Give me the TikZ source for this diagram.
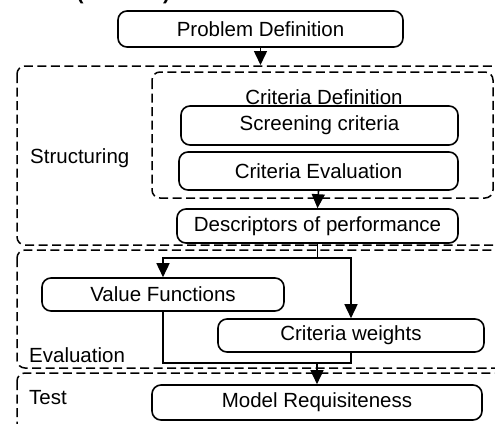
\documentclass[tikz,border=0pt]{standalone}
\usepackage{fontspec}
\setmainfont{Liberation Sans}
\usetikzlibrary{arrows.meta}
\begin{document}
\begin{tikzpicture}[x=1pt,y=-1pt,
  font=\fontsize{20.5}{24}\selectfont,
  box/.style={draw, line width=1.6pt, rounded corners=9pt, inner sep=0pt},
  phase/.style={draw, line width=1.5pt, dash pattern=on 9pt off 4.5pt, rounded corners=8pt},
  conn/.style={line width=1.6pt},
  arr/.style={line width=1.6pt, -{Triangle[width=13pt,length=14pt]}},
  lab/.style={inner sep=0pt, anchor=west}]
\useasboundingbox (0,0) rectangle (495,423);
\clip (0,0) rectangle (495,423);
% cropped title fragments
\node[inner sep=0pt, anchor=base, font=\fontsize{21}{24}\bfseries] (lp) at (80,-0.5) {(};
\node[inner sep=0pt, anchor=base, font=\fontsize{21}{24}\bfseries] (rp) at (166.5,-0.5) {)};
% phase boxes
\draw[phase] (17,66) rectangle (510,245);
\draw[phase] (152,72) rectangle (493,198);
\draw[phase] (17,250) rectangle (510,368);
\draw[phase] (17,373) rectangle (510,450);
% labels
\node[lab] (ls) at (30,158) {Structuring};
\node[lab] (le) at (29,355) {Evaluation};
\node[lab] (lt) at (29,398) {Test};
\node[inner sep=0pt] (cd) at (324,97) {Criteria Definition};
% boxes
\node[box, minimum width=285pt, minimum height=36pt] (pd) at (260.5,29) {Problem Definition};
\node[box, minimum width=277pt, minimum height=39pt] (sc) at (319.5,125.5) {Screening criteria};
\node[box, minimum width=279pt, minimum height=38pt] (ce) at (318.5,171) {Criteria Evaluation};
\node[box, minimum width=281pt, minimum height=34pt] (dp) at (317.5,226) {Descriptors of performance};
\node[box, minimum width=242pt, minimum height=33pt] (vf) at (163,294.5) {Value Functions};
\node[box, minimum width=266pt, minimum height=33pt] (cw) at (351,335.5) {Criteria weights};
\node[box, minimum width=330pt, minimum height=35pt] (mr) at (317,402.5) {Model Requisiteness};
% junctions
\coordinate (t1) at (260.5,65);
\coordinate (j1) at (317.5,258);
\coordinate (j2) at (317,363);
% connectors
\draw[arr] (pd.south) -- (t1);
\draw[arr] (ce.south) -- (dp.north);
\draw[conn] (dp.south) -- (j1);
\draw[arr] (j1) -| (vf.north);
\draw[arr] (j1) -| (cw.north);
\draw[conn] (vf.south) |- (j2);
\draw[conn] (cw.south) |- (j2);
\draw[arr] (j2) -- (mr.north);
\end{tikzpicture}
\end{document}
